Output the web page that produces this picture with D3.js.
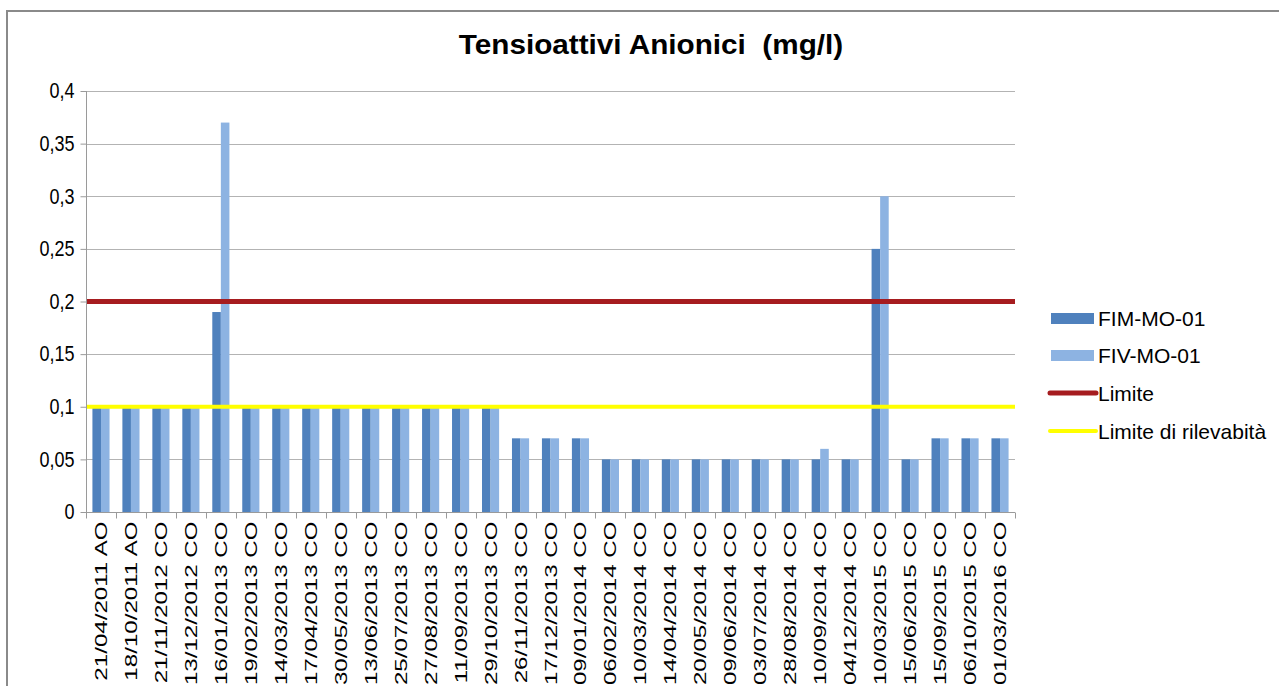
<!DOCTYPE html>
<html>
  <head>
    <meta charset="utf-8">
    <title>Tensioattivi Anionici</title>
    <script src="https://d3js.org/d3.v7.min.js"></script>
    <style>
      body { margin: 0; background: #fff; overflow: hidden; }
      text { font-family: "Liberation Sans", Arial, sans-serif; fill: #000; }
      .grid line { stroke: #b3b3b3; stroke-width: 1px; }
      .axis path, .axis line { stroke: #9a9a9a; }
    </style>
  </head>
  <body>
    <script>

      var categories = ["21/04/2011 AO","18/10/2011 AO","21/11/2012 CO","13/12/2012 CO","16/01/2013 CO",
        "19/02/2013 CO","14/03/2013 CO","17/04/2013 CO","30/05/2013 CO","13/06/2013 CO","25/07/2013 CO",
        "27/08/2013 CO","11/09/2013 CO","29/10/2013 CO","26/11/2013 CO","17/12/2013 CO","09/01/2014 CO",
        "06/02/2014 CO","10/03/2014 CO","14/04/2014 CO","20/05/2014 CO","09/06/2014 CO","03/07/2014 CO",
        "28/08/2014 CO","10/09/2014 CO","04/12/2014 CO","10/03/2015 CO","15/06/2015 CO","15/09/2015 CO",
        "06/10/2015 CO","01/03/2016 CO"];
      var fimValues = [0.1,0.1,0.1,0.1,0.19,0.1,0.1,0.1,0.1,0.1,0.1,0.1,0.1,0.1,0.07,0.07,0.07,
        0.05,0.05,0.05,0.05,0.05,0.05,0.05,0.05,0.05,0.25,0.05,0.07,0.07,0.07];
      var fivValues = [0.1,0.1,0.1,0.1,0.37,0.1,0.1,0.1,0.1,0.1,0.1,0.1,0.1,0.1,0.07,0.07,0.07,
        0.05,0.05,0.05,0.05,0.05,0.05,0.05,0.06,0.05,0.3,0.05,0.07,0.07,0.07];
      var seriesNames = ["FIM-MO-01", "FIV-MO-01"];
      var limite = 0.2;
      var limiteRilevabilita = 0.1;
      var yTicks = [0, 0.05, 0.1, 0.15, 0.2, 0.25, 0.3, 0.35, 0.4];

      var width = 1279, height = 686;
      var mLeft = 86, mRight = 1015, mTop = 91, mBottom = 512;
      var colors = ["#4f81bd", "#8db3e2"];
      var limColor = "#a61c1f", rilColor = "#ffff00";

      var svg = d3.select("body").append("svg")
        .attr("width", width)
        .attr("height", height);

      // chart border (right and bottom edges fall outside the picture)
      svg.append("rect")
        .attr("x", 7).attr("y", 11)
        .attr("width", 1290).attr("height", 700)
        .attr("fill", "none").attr("stroke", "#8a8a8a").attr("stroke-width", 2);

      svg.append("text")
        .attr("transform", "translate(651,54) scale(1.1,1)")
        .attr("text-anchor", "middle")
        .style("font-size", "27px").style("font-weight", "bold")
        .style("white-space", "pre")
        .text("Tensioattivi Anionici  (mg/l)");

      var x = d3.scaleBand().domain(categories).range([mLeft, mRight]);
      var xInner = d3.scaleBand().domain(seriesNames).range([0, x.bandwidth()])
        .paddingInner(0).paddingOuter(0.75);
      var y = d3.scaleLinear().domain([0, 0.4]).range([mBottom, mTop]);

      var locale = d3.formatLocale({decimal: ",", thousands: ".", grouping: [3], currency: ["", "€"]});
      var fmt = locale.format("~g");

      // gridlines
      svg.append("g").attr("class", "grid")
        .selectAll("line").data(yTicks.slice(1)).enter().append("line")
        .attr("x1", mLeft).attr("x2", mRight)
        .attr("y1", d => Math.round(y(d)) + 0.5).attr("y2", d => Math.round(y(d)) + 0.5);

      // bars
      var series = [fimValues, fivValues];
      series.forEach(function (vals, s) {
        svg.append("g").selectAll("rect").data(vals).enter().append("rect")
          .attr("x", (d, i) => x(categories[i]) + xInner(seriesNames[s]))
          .attr("width", xInner.bandwidth())
          .attr("y", d => y(d))
          .attr("height", d => y(0) - y(d))
          .attr("fill", colors[s]);
      });

      // limit lines
      svg.append("line")
        .attr("x1", mLeft).attr("x2", mRight)
        .attr("y1", y(limite)).attr("y2", y(limite))
        .attr("stroke", limColor).attr("stroke-width", 5);
      svg.append("line")
        .attr("x1", mLeft).attr("x2", mRight)
        .attr("y1", y(limiteRilevabilita)).attr("y2", y(limiteRilevabilita))
        .attr("stroke", rilColor).attr("stroke-width", 4);

      // y axis
      var yAxis = svg.append("g").attr("class", "axis")
        .attr("transform", "translate(" + (mLeft + 0.5) + ",0)")
        .call(d3.axisLeft(y).tickValues(yTicks).tickFormat(fmt).tickSize(6).tickPadding(6));
      yAxis.select(".domain").remove();
      yAxis.append("line").attr("y1", mTop).attr("y2", mBottom);
      yAxis.selectAll("text")
        .style("font-size", "18px")
        .attr("dy", "0.3em")
        .attr("transform", "scale(1,1.25)");

      // x axis with ticks between categories
      var xAxis = svg.append("g").attr("class", "axis")
        .attr("transform", "translate(0," + (mBottom + 0.5) + ")");
      xAxis.append("line").attr("x1", mLeft).attr("x2", mRight);
      xAxis.selectAll(".tk").data(categories.concat([null])).enter().append("line")
        .attr("class", "tk")
        .attr("x1", (d, i) => Math.round(mLeft + i * x.step()) + 0.5)
        .attr("x2", (d, i) => Math.round(mLeft + i * x.step()) + 0.5)
        .attr("y1", 0).attr("y2", 6);
      xAxis.selectAll("text").data(categories).enter().append("text")
        .attr("transform", d => "translate(" + (x(d) + x.bandwidth() / 2 + 6) + ",9) rotate(-90) scale(1.42,1)")
        .attr("text-anchor", "end")
        .style("font-size", "17px")
        .text(d => d);

      // legend
      var legendItems = [
        {name: seriesNames[0], color: colors[0], type: "rect"},
        {name: seriesNames[1], color: colors[1], type: "rect"},
        {name: "Limite", color: limColor, type: "line", w: 5},
        {name: "Limite di rilevabità", color: rilColor, type: "line", w: 4}
      ];
      var legendY = [318, 355, 393, 431];
      var lg = svg.append("g").selectAll("g").data(legendItems).enter().append("g")
        .attr("transform", (d, i) => "translate(1050," + legendY[i] + ")");
      lg.filter(d => d.type === "rect").append("rect")
        .attr("x", 1).attr("y", -5).attr("width", 43).attr("height", 11)
        .attr("fill", d => d.color);
      lg.filter(d => d.type === "line").append("line")
        .attr("x1", 0).attr("x2", 46)
        .attr("stroke", d => d.color).attr("stroke-width", d => d.w)
        .attr("stroke-linecap", "round");
      lg.append("text")
        .attr("x", 48).attr("y", 8)
        .style("font-size", "21px")
        .text(d => d.name);

    </script>
  </body>
</html>
